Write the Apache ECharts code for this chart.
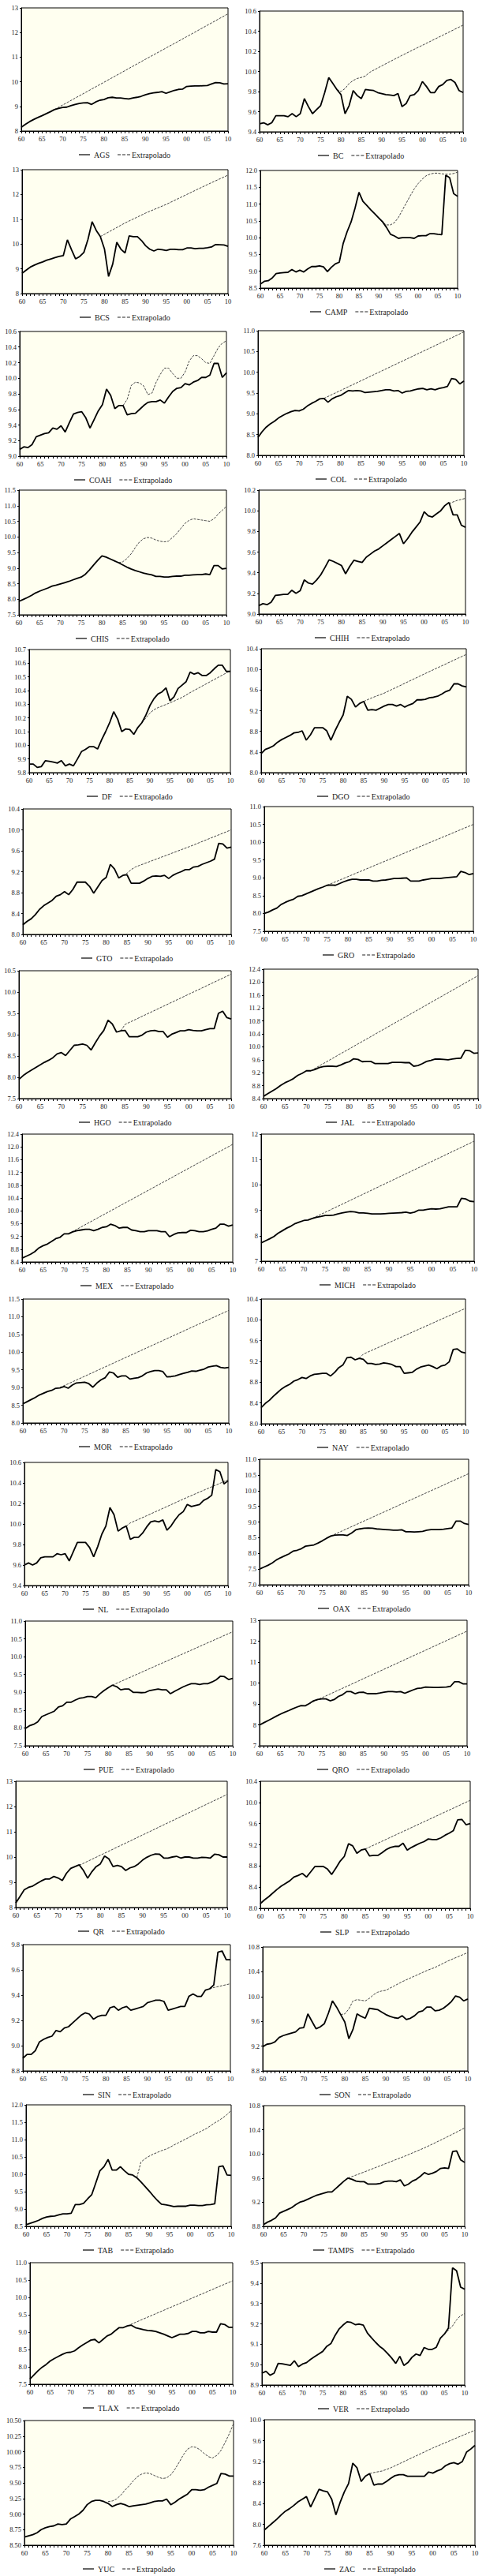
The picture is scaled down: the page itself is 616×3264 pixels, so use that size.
<!DOCTYPE html>
<html><head><meta charset="utf-8">
<script src="https://cdn.jsdelivr.net/npm/echarts@6/dist/echarts.min.js"></script>
<style>html,body{margin:0;padding:0;background:#fff}#c{width:616px;height:3264px}</style>
</head><body><div id="c"></div>
<script>
// ---------- DATA ----------
const STATES = ['AGS','BC','BCS','CAMP','COAH','COL','CHIS','CHIH','DF','DGO','GTO','GRO','HGO','JAL','MEX','MICH',
  'MOR','NAY','NL','OAX','PUE','QRO','QR','SLP','SIN','SON','TAB','TAMPS','TLAX','VER','YUC','ZAC'];
const X_LABELS = ['60','65','70','75','80','85','90','95','00','05','10'];
const EXT_NAME = 'Extrapolado';

const AGS = [8.15,8.27,8.38,8.47,8.55,8.62,8.70,8.78,8.87,8.92,
 8.96,8.97,9.03,9.08,9.12,9.14,9.15,9.08,9.18,9.25,
 9.28,9.35,9.37,9.34,9.34,9.32,9.30,9.34,9.37,9.41,
 9.47,9.52,9.55,9.57,9.60,9.53,9.59,9.65,9.69,9.70,
 9.81,9.82,9.83,9.83,9.84,9.85,9.91,9.97,9.96,9.91,
 9.92];
const AGS_X = [[1968,8.87],[1980,9.98],[1990,10.91],[2000,11.83],[2010,12.76]];

const BC = [9.48,9.49,9.47,9.49,9.56,9.56,9.56,9.55,9.58,9.55,
 9.58,9.73,9.65,9.58,9.62,9.66,9.79,9.94,9.88,9.82,
 9.77,9.58,9.66,9.81,9.76,9.73,9.82,9.815,9.81,9.79,
 9.78,9.77,9.765,9.76,9.78,9.65,9.68,9.76,9.77,9.81,
 9.90,9.85,9.79,9.79,9.85,9.87,9.91,9.92,9.89,9.81,
 9.79];
const BC_X = [[1979,9.82],[1980,9.80],[1981,9.83],[1982,9.88],[1983,9.91],[1984,9.93],[1985,9.94],[1986,9.955],[1987,9.99],[1990,10.055],[1995,10.16],[2000,10.26],[2005,10.36],[2010,10.46]];

const BCS = [8.82,8.95,9.07,9.15,9.22,9.28,9.35,9.40,9.45,9.50,
 9.53,10.17,9.77,9.40,9.50,9.66,10.19,10.90,10.55,10.30,
 9.80,8.69,9.19,10.07,9.79,9.64,10.33,10.30,10.30,10.14,
 9.93,9.79,9.72,9.79,9.77,9.74,9.79,9.79,9.77,9.77,
 9.84,9.84,9.81,9.83,9.83,9.85,9.88,9.98,9.97,9.96,
 9.91];
const BCS_X = [[1979,10.30],[1985,10.85],[1990,11.25],[1995,11.6],[2000,12.0],[2005,12.4],[2010,12.78]];

const CAMP = [8.62,8.70,8.72,8.80,8.93,8.95,8.96,8.97,9.05,8.98,
 9.03,8.98,9.07,9.14,9.14,9.16,9.13,8.99,9.12,9.22,
 9.27,9.83,10.18,10.47,10.88,11.35,11.08,10.96,10.83,10.71,
 10.59,10.47,10.30,10.10,10.05,9.98,10.0,10.0,10.0,9.98,
 10.05,10.06,10.06,10.12,10.12,10.1,10.09,11.86,11.78,11.31,
 11.23];
const CAMP_X = [[1990,10.59],[1991,10.45],[1992,10.38],[1993,10.38],[1994,10.45],[1995,10.6],[1996,10.82],[1997,11.03],[1998,11.25],[1999,11.45],[2000,11.61],[2001,11.74],[2002,11.84],[2003,11.89],[2004,11.92],[2005,11.92],[2006,11.9],[2007,11.89],[2008,11.89],[2009,11.91],[2010,11.95]];

const COAH = [9.085,9.12,9.11,9.15,9.25,9.27,9.29,9.30,9.36,9.345,
 9.39,9.31,9.43,9.54,9.56,9.57,9.49,9.36,9.47,9.58,
 9.66,9.86,9.78,9.61,9.65,9.65,9.53,9.545,9.55,9.6,
 9.65,9.69,9.70,9.70,9.72,9.68,9.76,9.83,9.87,9.88,
 9.93,9.915,9.95,9.97,10.01,10.01,10.04,10.19,10.19,10.01,
 10.07];
const COAH_X = [[1985,9.65],[1986,9.73],[1987,9.91],[1988,9.95],[1989,9.94],[1990,9.90],[1991,9.79],[1992,9.81],[1993,9.95],[1994,10.05],[1995,10.13],[1996,10.13],[1997,10.06],[1998,10.0],[1999,10.0],[2000,10.08],[2001,10.22],[2002,10.29],[2003,10.29],[2004,10.25],[2005,10.2],[2006,10.19],[2007,10.29],[2008,10.39],[2009,10.45],[2010,10.48]];

const COL = [8.43,8.57,8.68,8.76,8.82,8.9,8.96,9.01,9.05,9.08,
 9.07,9.11,9.19,9.25,9.3,9.36,9.37,9.28,9.36,9.41,
 9.44,9.5,9.56,9.55,9.56,9.55,9.51,9.52,9.53,9.54,
 9.56,9.58,9.58,9.55,9.56,9.5,9.54,9.55,9.58,9.6,
 9.61,9.58,9.6,9.58,9.61,9.63,9.66,9.85,9.83,9.72,
 9.79];
const COL_X = [[1976,9.37],[1990,10.03],[2000,10.5],[2010,10.97]];

const CHIS = [7.93,7.99,8.05,8.12,8.2,8.26,8.31,8.36,8.42,8.45,
 8.49,8.53,8.57,8.62,8.67,8.71,8.8,8.94,9.1,9.25,
 9.39,9.35,9.29,9.23,9.17,9.1,9.03,8.97,8.92,8.88,
 8.84,8.81,8.78,8.73,8.73,8.71,8.71,8.73,8.74,8.74,
 8.77,8.77,8.78,8.79,8.79,8.81,8.79,9.08,9.08,8.97,
 8.99];
const CHIS_X = [[1984,9.17],[1985,9.2],[1986,9.3],[1987,9.45],[1988,9.65],[1989,9.83],[1990,9.94],[1991,9.98],[1992,9.96],[1993,9.9],[1994,9.86],[1995,9.84],[1996,9.86],[1997,9.98],[1998,10.1],[1999,10.27],[2000,10.43],[2001,10.53],[2002,10.58],[2003,10.56],[2004,10.54],[2005,10.52],[2006,10.5],[2007,10.58],[2008,10.73],[2009,10.85],[2010,10.98]];

const CHIH = [9.08,9.1,9.09,9.115,9.18,9.185,9.19,9.19,9.23,9.2,
 9.225,9.33,9.3,9.29,9.33,9.38,9.45,9.525,9.51,9.49,
 9.47,9.39,9.46,9.52,9.51,9.5,9.55,9.58,9.61,9.63,
 9.66,9.69,9.72,9.75,9.78,9.68,9.73,9.79,9.84,9.89,
 9.99,9.95,9.94,9.97,10.0,10.05,10.08,9.96,9.96,9.86,
 9.84];
const CHIH_X = [[2006,10.07],[2008,10.1],[2010,10.12]];

const DF = [9.863,9.863,9.838,9.844,9.887,9.883,9.877,9.87,9.888,9.85,
 9.863,9.85,9.9,9.954,9.97,9.99,9.99,9.973,10.04,10.1,
 10.165,10.246,10.19,10.1,10.12,10.115,10.08,10.13,10.165,10.22,
 10.29,10.34,10.375,10.39,10.42,10.325,10.355,10.415,10.44,10.465,
 10.535,10.52,10.53,10.51,10.51,10.53,10.56,10.585,10.585,10.54,
 10.54];
const DF_X = [[1988,10.165],[1989,10.2],[1990,10.235],[1991,10.26],[1992,10.275],[1995,10.31],[1998,10.35],[2000,10.385],[2005,10.465],[2010,10.545]];

const DGO = [8.37,8.45,8.48,8.52,8.59,8.64,8.68,8.72,8.77,8.78,
 8.81,8.63,8.73,8.87,8.87,8.87,8.81,8.63,8.81,8.97,
 9.12,9.48,9.42,9.27,9.34,9.38,9.21,9.22,9.21,9.25,
 9.29,9.32,9.32,9.29,9.32,9.27,9.31,9.34,9.41,9.41,
 9.42,9.45,9.46,9.48,9.52,9.57,9.6,9.72,9.72,9.68,
 9.66];
const DGO_X = [[1985,9.38],[1987,9.45],[1990,9.54],[2000,9.92],[2010,10.29]];

const GTO = [8.185,8.25,8.3,8.38,8.48,8.55,8.6,8.65,8.73,8.76,
 8.82,8.76,8.86,9.0,9.0,9.0,8.92,8.79,8.91,9.03,
 9.09,9.34,9.25,9.08,9.13,9.14,8.98,8.98,8.98,9.02,
 9.07,9.11,9.12,9.11,9.13,9.07,9.13,9.17,9.2,9.24,
 9.24,9.29,9.3,9.34,9.37,9.4,9.44,9.74,9.73,9.65,
 9.67];
const GTO_X = [[1984,9.13],[1985,9.17],[1986,9.24],[1987,9.29],[1988,9.32],[1990,9.38],[1995,9.53],[2000,9.68],[2005,9.84],[2010,10.0]];

const GRO = [8.0,8.04,8.1,8.15,8.25,8.31,8.36,8.4,8.48,8.5,
 8.55,8.6,8.65,8.7,8.74,8.79,8.8,8.79,8.84,8.89,
 8.93,8.96,8.96,8.94,8.94,8.94,8.91,8.91,8.93,8.94,
 8.96,8.98,8.98,8.99,9.0,8.91,8.91,8.91,8.94,8.96,
 8.98,8.98,8.98,9.0,9.01,9.02,9.03,9.18,9.15,9.09,
 9.12];
const GRO_X = [[1975,8.79],[2010,10.5]];

const HGO = [7.95,8.04,8.11,8.17,8.23,8.29,8.35,8.4,8.46,8.55,
 8.58,8.51,8.63,8.75,8.76,8.78,8.75,8.64,8.81,8.97,
 9.1,9.34,9.25,9.06,9.09,9.1,8.95,8.95,8.95,8.99,
 9.06,9.09,9.1,9.07,9.07,8.94,9.01,9.05,9.09,9.09,
 9.12,9.1,9.09,9.09,9.12,9.14,9.14,9.5,9.55,9.4,
 9.37];
const HGO_X = [[1984,9.09],[1985,9.24],[2010,10.42]];

const JAL = [8.47,8.55,8.63,8.71,8.81,8.89,8.95,9.02,9.12,9.18,
 9.26,9.26,9.3,9.36,9.39,9.4,9.4,9.39,9.44,9.5,
 9.54,9.63,9.61,9.54,9.55,9.55,9.48,9.48,9.48,9.48,
 9.52,9.52,9.52,9.51,9.51,9.4,9.42,9.48,9.55,9.58,
 9.62,9.62,9.61,9.6,9.62,9.64,9.65,9.89,9.88,9.8,
 9.81];
const JAL_X = [[1971,9.26],[2010,12.2]];

const MEX = [8.52,8.58,8.64,8.72,8.84,8.91,8.96,9.04,9.13,9.17,
 9.28,9.28,9.34,9.38,9.4,9.42,9.42,9.38,9.42,9.48,
 9.5,9.58,9.54,9.46,9.48,9.48,9.4,9.38,9.35,9.35,
 9.38,9.38,9.38,9.35,9.35,9.19,9.26,9.31,9.32,9.32,
 9.39,9.38,9.35,9.35,9.37,9.42,9.46,9.58,9.58,9.52,
 9.56];
const MEX_X = [[1971,9.28],[2010,12.08]];

const MICH = [7.72,7.8,7.88,7.97,8.1,8.2,8.3,8.38,8.48,8.54,
 8.6,8.62,8.68,8.73,8.76,8.8,8.8,8.81,8.86,8.9,
 8.93,8.95,8.94,8.9,8.9,8.88,8.86,8.86,8.86,8.87,
 8.88,8.89,8.9,8.91,8.93,8.89,8.93,9.01,9.01,9.04,
 9.06,9.05,9.06,9.1,9.14,9.14,9.14,9.47,9.45,9.36,
 9.34];
const MICH_X = [[1972,8.68],[2010,11.72]];

const MOR = [8.54,8.6,8.66,8.72,8.79,8.84,8.89,8.92,8.98,8.99,
 9.03,8.98,9.07,9.13,9.14,9.15,9.11,9.01,9.13,9.22,
 9.28,9.44,9.41,9.29,9.33,9.33,9.24,9.26,9.28,9.33,
 9.41,9.45,9.48,9.48,9.45,9.3,9.31,9.33,9.37,9.4,
 9.43,9.47,9.46,9.49,9.52,9.58,9.6,9.62,9.57,9.55,
 9.57];
const MOR_X = [[1969,9.0],[2010,11.18]];

const NAY = [8.31,8.39,8.45,8.53,8.6,8.67,8.72,8.76,8.82,8.85,
 8.89,8.87,8.92,8.95,8.96,8.97,8.97,8.92,8.99,9.08,
 9.13,9.27,9.28,9.23,9.26,9.24,9.16,9.16,9.14,9.15,
 9.17,9.16,9.14,9.1,9.1,8.97,8.98,8.99,9.05,9.09,
 9.11,9.13,9.1,9.06,9.11,9.13,9.19,9.43,9.44,9.38,
 9.36];
const NAY_X = [[1984,9.26],[1985,9.34],[2010,10.22]];

const NL = [9.6,9.62,9.6,9.62,9.67,9.68,9.68,9.68,9.71,9.7,
 9.71,9.64,9.73,9.82,9.82,9.82,9.77,9.68,9.78,9.9,
 9.98,10.16,10.09,9.93,9.96,9.98,9.85,9.87,9.87,9.91,
 9.97,10.02,10.03,10.02,10.04,9.94,9.98,10.04,10.09,10.12,
 10.19,10.17,10.18,10.19,10.23,10.25,10.28,10.53,10.51,10.39,
 10.42];
const NL_X = [[1985,9.98],[1986,10.01],[1990,10.08],[2000,10.26],[2010,10.43]];

const OAX = [7.5,7.56,7.62,7.69,7.79,7.86,7.92,7.98,8.07,8.1,
 8.15,8.23,8.25,8.27,8.33,8.4,8.48,8.55,8.58,8.59,
 8.59,8.57,8.65,8.75,8.78,8.8,8.81,8.8,8.78,8.77,
 8.76,8.75,8.74,8.74,8.75,8.69,8.69,8.68,8.69,8.7,
 8.74,8.76,8.76,8.76,8.77,8.79,8.81,9.03,9.03,8.95,
 8.92];
const OAX_X = [[1977,8.55],[2010,10.54]];

const PUE = [7.98,8.06,8.1,8.17,8.32,8.37,8.42,8.47,8.59,8.62,
 8.72,8.72,8.78,8.83,8.85,8.88,8.88,8.85,8.96,9.05,
 9.13,9.2,9.16,9.07,9.09,9.09,9.0,9.0,8.99,9.0,
 9.05,9.07,9.09,9.07,9.07,8.96,9.03,9.09,9.15,9.2,
 9.24,9.24,9.22,9.24,9.24,9.29,9.35,9.45,9.44,9.36,
 9.39];
const PUE_X = [[1981,9.2],[2010,10.7]];

const QRO = [7.99,8.1,8.2,8.3,8.41,8.51,8.6,8.68,8.77,8.85,
 8.92,8.91,9.02,9.15,9.21,9.24,9.24,9.15,9.21,9.36,
 9.44,9.59,9.59,9.49,9.55,9.56,9.49,9.49,9.49,9.52,
 9.56,9.59,9.59,9.57,9.59,9.51,9.59,9.67,9.74,9.76,
 9.81,9.8,9.79,9.79,9.8,9.81,9.84,10.06,10.06,9.96,
 9.96];
const QRO_X = [[1972,9.02],[2010,12.48]];

const QR = [8.18,8.44,8.7,8.8,8.85,8.95,9.05,9.13,9.13,9.23,
 9.17,9.07,9.36,9.55,9.62,9.69,9.47,9.16,9.42,9.62,
 9.73,10.04,9.93,9.62,9.67,9.62,9.47,9.57,9.62,9.73,
 9.88,9.99,10.07,10.12,10.11,9.96,9.96,10.0,10.03,9.96,
 10.0,10.0,9.96,9.96,9.99,9.98,9.96,10.11,10.09,10.0,
 10.0];
const QR_X = [[1975,9.67],[2010,12.48]];

const SLP = [8.09,8.16,8.22,8.29,8.36,8.42,8.47,8.52,8.59,8.62,
 8.66,8.59,8.69,8.79,8.79,8.79,8.74,8.64,8.76,8.89,
 8.98,9.22,9.18,9.04,9.1,9.12,8.99,9.0,9.0,9.05,
 9.11,9.15,9.17,9.17,9.23,9.1,9.15,9.19,9.23,9.26,
 9.31,9.3,9.3,9.33,9.38,9.42,9.47,9.67,9.68,9.58,
 9.6];
const SLP_X = [[1985,9.12],[2010,10.04]];

const SIN = [8.9,8.93,8.93,8.96,9.03,9.05,9.065,9.075,9.12,9.11,
 9.14,9.15,9.18,9.21,9.24,9.26,9.25,9.21,9.23,9.24,
 9.24,9.3,9.31,9.28,9.3,9.31,9.28,9.29,9.3,9.31,
 9.34,9.35,9.36,9.36,9.35,9.28,9.29,9.3,9.31,9.31,
 9.39,9.41,9.39,9.39,9.44,9.45,9.48,9.74,9.75,9.68,
 9.68];
const SIN_X = [[2005,9.45],[2006,9.46],[2010,9.49]];

const SON = [9.19,9.23,9.24,9.27,9.34,9.37,9.39,9.41,9.43,9.49,
 9.5,9.72,9.6,9.48,9.51,9.56,9.73,9.93,9.83,9.71,
 9.59,9.32,9.47,9.72,9.68,9.65,9.81,9.8,9.79,9.75,
 9.71,9.68,9.66,9.65,9.69,9.63,9.65,9.69,9.75,9.77,
 9.83,9.83,9.77,9.78,9.81,9.86,9.92,10.01,9.99,9.93,
 9.96];
const SON_X = [[1979,9.71],[1980,9.72],[1981,9.8],[1982,9.93],[1983,9.95],[1984,9.94],[1985,9.93],[1986,9.97],[1987,10.03],[1988,10.07],[1989,10.09],[1990,10.1],[1992,10.17],[1994,10.24],[1996,10.3],[1998,10.36],[2000,10.42],[2002,10.47],[2005,10.57],[2010,10.71]];

const TAB = [8.55,8.59,8.63,8.67,8.73,8.77,8.79,8.8,8.83,8.86,
 8.86,8.88,9.13,9.13,9.16,9.29,9.41,9.75,10.1,10.22,
 10.43,10.12,10.12,10.22,10.1,10.0,9.98,9.9,9.78,9.65,
 9.52,9.38,9.25,9.14,9.12,9.1,9.07,9.08,9.08,9.08,
 9.11,9.11,9.1,9.1,9.12,9.13,9.15,10.22,10.24,9.98,
 9.97];
const TAB_X = [[1987,9.9],[1988,10.35],[1989,10.45],[1990,10.52],[1991,10.58],[1992,10.63],[1993,10.68],[1994,10.72],[1995,10.77],[1996,10.84],[1997,10.9],[1998,10.96],[1999,11.02],[2000,11.08],[2001,11.15],[2002,11.2],[2003,11.26],[2004,11.32],[2005,11.4],[2006,11.48],[2007,11.55],[2008,11.63],[2009,11.72],[2010,11.84]];

const TAMPS = [8.83,8.87,8.9,8.94,9.02,9.05,9.08,9.11,9.16,9.2,
 9.22,9.25,9.28,9.31,9.33,9.35,9.37,9.37,9.43,9.49,
 9.55,9.6,9.58,9.55,9.54,9.54,9.5,9.5,9.5,9.51,
 9.54,9.55,9.55,9.54,9.57,9.47,9.5,9.55,9.58,9.63,
 9.69,9.66,9.68,9.71,9.76,9.77,9.76,10.04,10.05,9.9,
 9.86];
const TAMPS_X = [[1981,9.6],[1985,9.7],[1990,9.83],[1995,9.96],[2000,10.1],[2005,10.26],[2010,10.43]];

const TLAX = [7.65,7.77,7.89,7.99,8.07,8.17,8.24,8.3,8.36,8.41,
 8.42,8.46,8.55,8.63,8.7,8.77,8.79,8.69,8.79,8.89,
 8.94,9.04,9.13,9.13,9.18,9.2,9.13,9.1,9.07,9.05,
 9.04,9.02,8.98,8.94,8.89,8.84,8.89,8.94,8.94,8.96,
 9.02,9.02,8.98,8.98,9.02,9.0,9.0,9.24,9.22,9.14,
 9.14];
const TLAX_X = [[1984,9.18],[2010,10.48]];

const VER = [8.958,8.967,8.948,8.958,9.006,9.004,9.0,8.996,9.019,8.99,
 9.003,9.01,9.026,9.039,9.052,9.065,9.09,9.103,9.142,9.174,
 9.194,9.21,9.207,9.196,9.199,9.194,9.155,9.132,9.11,9.09,
 9.075,9.054,9.032,9.006,9.041,8.996,9.01,9.036,9.052,9.045,
 9.084,9.075,9.075,9.085,9.13,9.15,9.18,9.475,9.46,9.38,
 9.37];
const VER_X = [[2005,9.15],[2006,9.17],[2007,9.19],[2008,9.22],[2009,9.24],[2010,9.25]];

const YUC = [8.63,8.65,8.67,8.7,8.75,8.78,8.8,8.81,8.84,8.83,
 8.84,8.92,8.96,9.0,9.06,9.15,9.2,9.22,9.22,9.2,
 9.17,9.12,9.15,9.17,9.15,9.12,9.13,9.14,9.15,9.16,
 9.18,9.2,9.21,9.21,9.24,9.15,9.19,9.24,9.28,9.32,
 9.39,9.39,9.38,9.39,9.43,9.46,9.49,9.65,9.64,9.61,
 9.61];
const YUC_X = [[1980,9.2],[1981,9.21],[1982,9.24],[1983,9.3],[1984,9.38],[1985,9.45],[1986,9.53],[1987,9.6],[1988,9.64],[1989,9.66],[1990,9.65],[1991,9.62],[1992,9.59],[1993,9.57],[1994,9.58],[1995,9.63],[1996,9.72],[1997,9.83],[1998,9.95],[1999,10.04],[2000,10.08],[2001,10.07],[2002,10.03],[2003,9.97],[2004,9.92],[2005,9.9],[2006,9.94],[2007,10.02],[2008,10.15],[2009,10.29],[2010,10.45]];

const ZAC = [7.89,7.96,8.03,8.1,8.18,8.25,8.3,8.36,8.43,8.48,
 8.53,8.33,8.5,8.67,8.64,8.62,8.48,8.18,8.42,8.62,
 8.78,9.17,9.08,8.82,8.92,8.97,8.75,8.77,8.77,8.82,
 8.88,8.93,8.95,8.95,8.92,8.92,8.92,8.92,8.92,9.0,
 8.98,9.02,9.05,9.12,9.16,9.18,9.15,9.2,9.38,9.44,
 9.51];
const ZAC_X = [[1985,8.97],[1986,8.99],[1988,9.02],[1990,9.08],[2000,9.46],[2010,9.8]];

const ACTUAL = [AGS,BC,BCS,CAMP,COAH,COL,CHIS,CHIH,DF,DGO,GTO,GRO,HGO,JAL,MEX,MICH,
  MOR,NAY,NL,OAX,PUE,QRO,QR,SLP,SIN,SON,TAB,TAMPS,TLAX,VER,YUC,ZAC];
const EXTRA = [AGS_X,BC_X,BCS_X,CAMP_X,COAH_X,COL_X,CHIS_X,CHIH_X,DF_X,DGO_X,GTO_X,GRO_X,HGO_X,JAL_X,MEX_X,MICH_X,
  MOR_X,NAY_X,NL_X,OAX_X,PUE_X,QRO_X,QR_X,SLP_X,SIN_X,SON_X,TAB_X,TAMPS_X,TLAX_X,VER_X,YUC_X,ZAC_X];

// y-axis scales (tick labels)
const Y_MIN  = [8,9.4,8,8.5,9.0,8.0,7.5,9.0,9.8,8.0,8.0,7.5,7.5,8.4,8.4,7, 8.0,8.0,9.4,7.0,7.5,7,8,8.0,8.8,8.8,8.5,8.8,7.5,8.9,8.5,7.6];
const Y_MAX  = [13,10.6,13,12,10.6,11.0,11.5,10.2,10.7,10.4,10.4,11.0,10.5,12.4,12.4,12, 11.5,10.4,10.6,11.0,11.0,13,13,10.4,9.8,10.8,12.0,10.8,11.0,9.5,10.5,10.0];
const Y_STEP = [1,0.2,1,0.5,0.2,0.5,0.5,0.2,0.1,0.4,0.4,0.5,0.5,0.4,0.4,1, 0.5,0.4,0.2,0.5,0.5,1,1,0.4,0.2,0.4,0.5,0.4,0.5,0.1,0.25,0.4];
const Y_DEC  = [0,1,0,1,1,1,1,1,1,1,1,1,1,1,1,0, 1,1,1,1,1,0,0,1,1,1,1,1,1,1,2,1];

// ---------- LAYOUT (plot rectangles: left, top, right, bottom in px) ----------
const LAYOUT = [
 [27,10,289,166],[329,14,587,167],
 [28,215,289,372],[330,216,580,365],
 [25,420,287,578],[327,419,588,577],
 [24,621,287,779],[328,621,590,778],
 [37,823,292,979],[331,822,591,979],
 [29,1025,293,1184],[335,1022,600,1180],
 [24,1230,293,1392],[334,1228,606,1392],
 [28,1437,295,1599],[331,1437,601,1598],
 [29,1646,290,1803],[331,1646,590,1804],
 [31,1853,289,2009],[329,1849,594,2008],
 [32,2054,295,2212],[329,2053,592,2212],
 [20,2257,288,2417],[330,2257,596,2418],
 [29,2464,292,2624],[333,2467,593,2624],
 [33,2667,293,2821],[334,2668,589,2821],
 [38,2867,295,3021],[332,2867,589,3022],
 [31,3067,296,3225],[335,3066,602,3225]
];

const FONT = "'Liberation Serif','DejaVu Serif',serif";
const BG = '#FFFFF0';
const LEG_FONT_SIZE = 10;

const chart = echarts.init(document.getElementById('c'), null, {renderer:'svg', width:616, height:3264});

const mctx = document.createElement('canvas').getContext('2d');
mctx.font = LEG_FONT_SIZE + 'px ' + FONT;
const tw = s => mctx.measureText(s).width;

const grid=[], xAxis=[], yAxis=[], series=[], graphic=[];
STATES.forEach((name,i)=>{
  const [l,t,r,b] = LAYOUT[i];
  grid.push({left:l, top:t, width:r-l, height:b-t, show:true, backgroundColor:BG, borderColor:'#000', borderWidth:1});
  xAxis.push({
    type:'value', gridIndex:i, min:1960, max:2010, interval:5,
    axisLine:{show:true, onZero:false, lineStyle:{color:'#000', width:1}},
    axisTick:{show:true, length:3, lineStyle:{color:'#000', width:1}},
    minorTick:{show:true, splitNumber:5, length:3, lineStyle:{color:'#000', width:1}},
    splitLine:{show:false}, minorSplitLine:{show:false},
    axisLabel:{show:true, showMinLabel:true, showMaxLabel:true, margin:5, fontSize:8.5, color:'#222', fontFamily:FONT,
      formatter: v => X_LABELS[Math.round((v-1960)/5)]}
  });
  const dec = Y_DEC[i];
  yAxis.push({
    type:'value', gridIndex:i, min:Y_MIN[i], max:Y_MAX[i], interval:Y_STEP[i],
    axisLine:{show:true, onZero:false, lineStyle:{color:'#000', width:1}},
    axisTick:{show:true, length:2, lineStyle:{color:'#000', width:1}},
    splitLine:{show:false},
    axisLabel:{show:true, showMinLabel:true, showMaxLabel:true, margin:4, fontSize:8.5, color:'#222', fontFamily:FONT,
      formatter: v => Number(v).toFixed(dec)}
  });
  series.push({
    name: EXT_NAME, type:'line', xAxisIndex:i, yAxisIndex:i, data: EXTRA[i],
    symbol:'none', connectNulls:true, silent:true, z:2,
    lineStyle:{color:'#444', width:1, type:[3,1.5]}
  });
  series.push({
    name: name, type:'line', xAxisIndex:i, yAxisIndex:i,
    data: ACTUAL[i].map((v,k)=>[1960+k, v]),
    symbol:'none', silent:true, z:3,
    lineStyle:{color:'#000', width:1.8}
  });
  // legend below each panel
  const cx = (l+r)/2, cy = b + 30;
  const wN = tw(name), wE = tw(EXT_NAME);
  const L1 = 14, G1 = 5, G2 = 10, L2 = 16, G3 = 2;
  const W = L1+G1+wN+G2+L2+G3+wE;
  const x0 = Math.round(cx - W/2);
  graphic.push({type:'line', shape:{x1:x0, y1:cy, x2:x0+L1, y2:cy}, style:{stroke:'#000', lineWidth:1.2}, silent:true});
  graphic.push({type:'text', x:x0+L1+G1, y:cy, style:{text:name, fill:'#222', font:LEG_FONT_SIZE+'px '+FONT, verticalAlign:'middle', align:'left'}, silent:true});
  const x2 = x0+L1+G1+wN+G2;
  graphic.push({type:'line', shape:{x1:x2, y1:cy, x2:x2+L2, y2:cy}, style:{stroke:'#222', lineWidth:1, lineDash:[4,2]}, silent:true});
  graphic.push({type:'text', x:x2+L2+G3, y:cy, style:{text:EXT_NAME, fill:'#222', font:LEG_FONT_SIZE+'px '+FONT, verticalAlign:'middle', align:'left'}, silent:true});
});

chart.setOption({
  animation:false,
  backgroundColor:'#fff',
  grid, xAxis, yAxis, series, graphic
});
</script>
</body></html>
